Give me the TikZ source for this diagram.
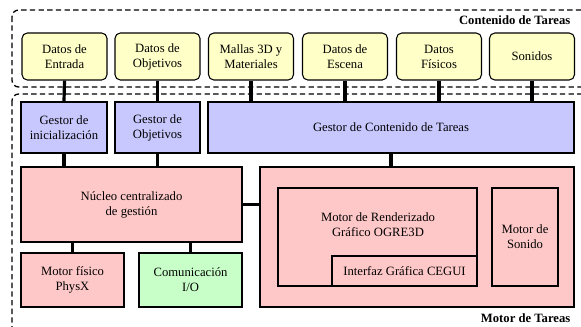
\documentclass[tikz,border=0pt]{standalone}
\usepackage{xcolor}
\usepackage{fontspec}
\setmainfont{LiberationSerif}[Extension=.ttf,UprightFont=*-Regular,BoldFont=*-Bold,ItalicFont=*-Italic,BoldItalicFont=*-BoldItalic]
\usetikzlibrary{calc}

\begin{document}
\begin{tikzpicture}[x=0.75pt,y=-0.75pt,
    font=\rmfamily\fontsize{9.5}{11.25}\selectfont,
    caja/.style={draw,line width=0.8pt,align=center,inner sep=1pt},
    dato/.style={caja,rounded corners=4pt,fill=r255g255b200,minimum width=63.75pt,minimum height=35.25pt},
    gestor/.style={caja,fill=r200g200b255,minimum height=38.25pt},
    motor/.style={caja,fill=r255g200b200},
    enlace/.style={line width=2.4pt},
    grupo/.style={line width=1pt,dash pattern=on 4pt off 2.5pt,rounded corners=5pt}]
    \clip (0,0) rectangle (581,326);
    \useasboundingbox (0,0) rectangle (581,326);

    % Changing colors
    \definecolor{r255g255b200}{RGB}{255,255,200}%
    \definecolor{r200g200b255}{RGB}{200,200,255}%
    \definecolor{r255g200b200}{RGB}{255,200,200}%
    \definecolor{r200g255b200}{RGB}{200,255,200}%

    % Drawing dashed groups
    \draw [grupo] (12,10) rectangle (600,87);%
    \node [anchor=east,font=\rmfamily\bfseries\fontsize{9.5}{11.25}\selectfont] (tcont) at (575,20) {Contenido de Tareas};%
    \draw [grupo] (12,94) rectangle (600,345);%
    \node [anchor=east,font=\rmfamily\bfseries\fontsize{9.5}{11.25}\selectfont] (tmot) at (575,318) {Motor de Tareas};%

    % Drawing task content
    \node [dato] (ent) at (64.5,56.5) {Datos de\\Entrada};%
    \node [dato] (obj) at (157.5,56.5) {Datos de\\Objetivos};%
    \node [dato] (mall) at (251,56.5) {Mallas 3D y\\Materiales};%
    \node [dato] (esc) at (345,56.5) {Datos de\\Escena};%
    \node [dato] (fis) at (439,56.5) {Datos\\Físicos};%
    \node [dato] (son) at (532,56.5) {Sonidos};%

    % Drawing managers
    \node [gestor,minimum width=64.5pt] (gini) at (64,127.5) {Gestor de\\inicialización};%
    \node [gestor,minimum width=63.75pt] (gobj) at (157.5,127.5) {Gestor de\\Objetivos};%
    \node [gestor,minimum width=274.5pt] (gct) at (391,127.5) {Gestor de Contenido de Tareas};%

    % Drawing engines
    \node [motor,minimum width=165.75pt,minimum height=56.25pt] (nuc) at (131.5,204.5) {Núcleo centralizado\\de gestión};%
    \node [motor,minimum width=235.5pt,minimum height=105pt] (mot) at (417,237) {};%
    \node [motor,minimum width=149.25pt,minimum height=73.5pt] (rend) at (377.5,237) {};%
    \node (rendt) at (378,224.5) [align=center] {Motor de Renderizado\\Gráfico OGRE3D};%
    \node [motor,minimum width=108.75pt,minimum height=22.5pt] (gui) at (404.5,271) {Interfaz Gráfica CEGUI};%
    \node [motor,minimum width=49.5pt,minimum height=73.5pt] (sond) at (525,237) {Motor de\\Sonido};%
    \node [motor,minimum width=77.25pt,minimum height=40.5pt] (phy) at (72.5,280) {Motor físico\\PhysX};%
    \node [caja,fill=r200g255b200,minimum width=77.25pt,minimum height=40.5pt] (com) at (190.5,280) {Comunicación\\I/O};%

    % Drawing links
    \draw [enlace] (ent.south) -- (gini.north);%
    \draw [enlace] (obj.south) -- (gobj.north);%
    \draw [enlace] (mall.south) -- (mall.south |- gct.north);%
    \draw [enlace] (esc.south) -- (esc.south |- gct.north);%
    \draw [enlace] (fis.south) -- (fis.south |- gct.north);%
    \draw [enlace] (son.south) -- (son.south |- gct.north);%
    \draw [enlace] (gini.south) -- (gini.south |- nuc.north);%
    \draw [enlace] (gobj.south) -- (gobj.south |- nuc.north);%
    \draw [enlace] ($(gct.south west)+(17,0)$) -- ($(gct.south west)+(17,0)$ |- nuc.north);%
    \draw [enlace] (gct.south) -- (gct.south |- mot.north);%
    \draw [enlace] (nuc.east) -- (nuc.east -| mot.west);%
    \draw [enlace] (phy.north) -- (phy.north |- nuc.south);%
    \draw [enlace] (com.north) -- (com.north |- nuc.south);%
\end{tikzpicture}
\end{document}
